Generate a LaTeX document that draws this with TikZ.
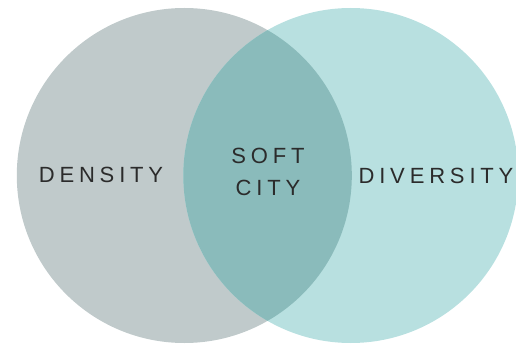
\documentclass[tikz,border=0pt]{standalone}
\usepackage{fontspec}
\setmainfont{Liberation Sans}
\newfontfamily\lblfont[LetterSpace=22]{Liberation Sans}
\definecolor{densgray}{RGB}{192,202,203}
\definecolor{divteal}{RGB}{184,224,224}
\definecolor{softteal}{RGB}{138,187,187}
\definecolor{lbltext}{RGB}{43,43,43}
\tikzset{
  lbl/.style={font=\lblfont\fontsize{22pt}{24pt}\selectfont, text=lbltext, anchor=base, inner sep=0pt},
}
\begin{document}
\begin{tikzpicture}[x=1pt,y=1pt]
\useasboundingbox (0,0) rectangle (516,343);
\coordinate (cl) at (184.3,167.5);
\coordinate (cr) at (350.8,167.5);
\fill[densgray] (cl) circle (167.5);
\fill[divteal] (cr) circle (167.5);
\begin{scope}
  \clip (cl) circle (167.5);
  \fill[softteal] (cr) circle (167.5);
\end{scope}
\node[lbl] (dens) at (101,160.3) {DENSITY};
\node[lbl] (soft) at (268,179.3) {SOFT};
\node[lbl] (city) at (268,148) {CITY};
\node[lbl] (div) at (436,159.2) {DIVERSITY};
\end{tikzpicture}
\end{document}
